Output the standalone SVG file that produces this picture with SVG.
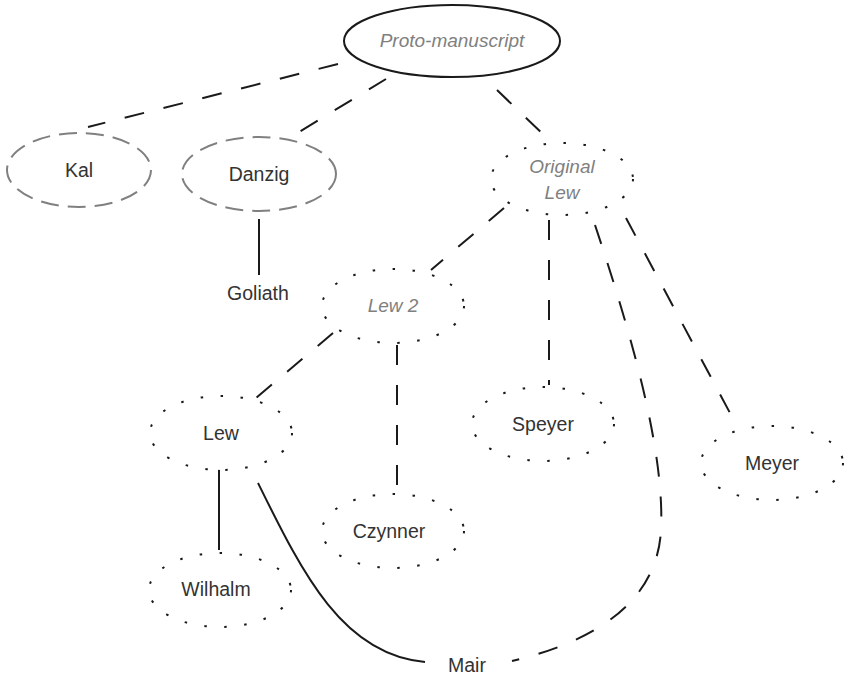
<svg xmlns="http://www.w3.org/2000/svg" width="846" height="684" viewBox="0 0 846 684">
  <style>
    .solid { fill: none; stroke: #1a1a1a; stroke-width: 2; }
    .dash { fill: none; stroke: #1a1a1a; stroke-width: 2; stroke-dasharray: 20 20; }
    .node-main { fill: #fff; stroke: #1a1a1a; stroke-width: 2; }
    .node-lost { fill: #fff; stroke: #808080; stroke-width: 2; stroke-dasharray: 18 9; }
    .node-hyp { fill: #fff; stroke: #1a1a1a; stroke-width: 2; stroke-dasharray: 2.5 17.5; }
    .label { font-family: "Liberation Sans", Arial, sans-serif; font-size: 19.5px; fill: #333; text-anchor: middle; }
    .label-it { font-family: "Liberation Sans", Arial, sans-serif; font-size: 19px; fill: #808080; font-style: italic; text-anchor: middle; }
  </style>

  <g id="connectors">
    <line class="dash" x1="338" y1="64" x2="88" y2="127"/>
    <line class="dash" x1="386" y1="79" x2="299" y2="132"/>
    <line class="dash" x1="497" y1="90" x2="549" y2="140"/>
    <line class="solid" x1="259" y1="219" x2="259" y2="275"/>
    <line class="dash" x1="504" y1="208" x2="431" y2="270"/>
    <line class="dash" x1="549" y1="220" x2="549" y2="385"/>
    <line class="dash" x1="626" y1="218" x2="738" y2="428"/>
    <path class="dash" d="M 595 225 C 630 330, 665 450, 661 530 C 657 610, 580 645, 512 661"/>
    <line class="dash" x1="333" y1="333" x2="256" y2="398"/>
    <line class="dash" x1="397" y1="345" x2="397" y2="490"/>
    <line class="solid" x1="219" y1="455" x2="219" y2="550"/>
    <path class="solid" d="M 258 483 C 302 572, 342 655, 425 662"/>
  </g>

  <g id="proto-manuscript">
    <ellipse class="node-main" cx="452" cy="41" rx="108" ry="36"/>
    <text class="label-it" x="452" y="47">Proto-manuscript</text>
  </g>
  <g id="kal">
    <ellipse class="node-lost" cx="79" cy="170" rx="72" ry="37"/>
    <text class="label" x="79" y="177">Kal</text>
  </g>
  <g id="danzig">
    <ellipse class="node-lost" cx="259" cy="174" rx="77" ry="37"/>
    <text class="label" x="259" y="181">Danzig</text>
  </g>
  <g id="goliath">
    <text class="label" x="258" y="300">Goliath</text>
  </g>
  <g id="original-lew">
    <ellipse class="node-hyp" cx="562" cy="179" rx="71" ry="36"/>
    <text class="label-it" x="562" y="173">Original</text>
    <text class="label-it" x="562" y="199">Lew</text>
  </g>
  <g id="lew-2">
    <ellipse class="node-hyp" cx="393" cy="306" rx="71" ry="37"/>
    <text class="label-it" x="393" y="312">Lew 2</text>
  </g>
  <g id="lew">
    <ellipse class="node-hyp" cx="221" cy="433" rx="71" ry="37"/>
    <text class="label" x="221" y="440">Lew</text>
  </g>
  <g id="speyer">
    <ellipse class="node-hyp" cx="543" cy="424" rx="71" ry="37"/>
    <text class="label" x="543" y="431">Speyer</text>
  </g>
  <g id="meyer">
    <ellipse class="node-hyp" cx="772" cy="463" rx="71" ry="37"/>
    <text class="label" x="772" y="470">Meyer</text>
  </g>
  <g id="czynner">
    <ellipse class="node-hyp" cx="393" cy="531" rx="71" ry="37"/>
    <text class="label" x="389" y="538">Czynner</text>
  </g>
  <g id="wilhalm">
    <ellipse class="node-hyp" cx="220" cy="590" rx="71" ry="37"/>
    <text class="label" x="216" y="596">Wilhalm</text>
  </g>
  <g id="mair">
    <text class="label" x="467" y="672">Mair</text>
  </g>
</svg>
